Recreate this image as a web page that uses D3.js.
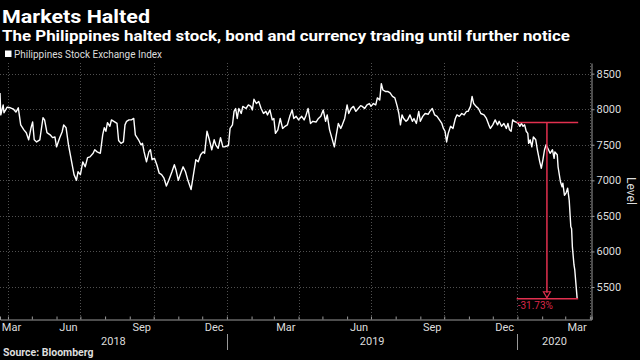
<!DOCTYPE html>
<html><head><meta charset="utf-8">
<script src="https://cdn.jsdelivr.net/npm/d3@7"></script>
<style>body{margin:0;background:#000;} svg{display:block}</style>
</head><body>
<svg id="c" width="640" height="360"></svg>
<script>
const dates = [
"2018-03-22","2018-03-23","2018-03-26","2018-03-27","2018-03-31","2018-04-04","2018-04-08","2018-04-11","2018-04-14","2018-04-17",
"2018-04-21","2018-04-24","2018-04-27","2018-04-30","2018-05-02","2018-05-04","2018-05-07","2018-05-11","2018-05-15","2018-05-17",
"2018-05-20","2018-05-24","2018-05-27","2018-05-30","2018-06-01","2018-06-05","2018-06-08","2018-06-10","2018-06-13","2018-06-16",
"2018-06-20","2018-06-23","2018-06-26","2018-06-28","2018-07-01","2018-07-04","2018-07-07","2018-07-10","2018-07-13","2018-07-17",
"2018-07-19","2018-07-22","2018-07-26","2018-07-29","2018-07-31","2018-08-02","2018-08-04","2018-08-07","2018-08-09","2018-08-12",
"2018-08-16","2018-08-18","2018-08-21","2018-08-24","2018-08-26","2018-08-28","2018-08-31","2018-09-03","2018-09-06","2018-09-08",
"2018-09-12","2018-09-15","2018-09-17","2018-09-19","2018-09-22","2018-09-25","2018-09-27","2018-09-29","2018-10-02","2018-10-05",
"2018-10-08","2018-10-11","2018-10-14","2018-10-17","2018-10-20","2018-10-24","2018-10-27","2018-10-29","2018-11-01","2018-11-04",
"2018-11-07","2018-11-10","2018-11-13","2018-11-17","2018-11-20","2018-11-23","2018-11-26","2018-11-29","2018-12-02","2018-12-04",
"2018-12-07","2018-12-10","2018-12-13","2018-12-16","2018-12-18","2018-12-21","2018-12-24","2018-12-27","2018-12-29","2019-01-03",
"2019-01-05","2019-01-08","2019-01-10","2019-01-12","2019-01-14","2019-01-16","2019-01-19","2019-01-21","2019-01-25","2019-01-28",
"2019-01-31","2019-02-02","2019-02-04","2019-02-07","2019-02-10","2019-02-13","2019-02-16","2019-02-19","2019-02-21","2019-02-24",
"2019-02-27","2019-03-01","2019-03-03","2019-03-06","2019-03-09","2019-03-12","2019-03-15","2019-03-18","2019-03-21","2019-03-24",
"2019-03-26","2019-03-29","2019-04-01","2019-04-05","2019-04-08","2019-04-10","2019-04-13","2019-04-16","2019-04-19","2019-04-23",
"2019-04-26","2019-04-29","2019-05-02","2019-05-05","2019-05-07","2019-05-10","2019-05-13","2019-05-16","2019-05-18","2019-05-21",
"2019-05-24","2019-05-26","2019-05-29","2019-06-01","2019-06-03","2019-06-06","2019-06-09","2019-06-12","2019-06-15","2019-06-18",
"2019-06-20","2019-06-23","2019-06-26","2019-06-29","2019-07-01","2019-07-04","2019-07-07","2019-07-09","2019-07-12","2019-07-14",
"2019-07-16","2019-07-19","2019-07-22","2019-07-25","2019-07-28","2019-07-31","2019-08-03","2019-08-05","2019-08-07","2019-08-09",
"2019-08-11","2019-08-14","2019-08-16","2019-08-19","2019-08-22","2019-08-24","2019-08-27","2019-08-30","2019-09-01","2019-09-04",
"2019-09-07","2019-09-11","2019-09-13","2019-09-16","2019-09-19","2019-09-22","2019-09-25","2019-09-28","2019-09-30","2019-10-02",
"2019-10-04","2019-10-06","2019-10-09","2019-10-12","2019-10-15","2019-10-17","2019-10-20","2019-10-23","2019-10-26","2019-10-29",
"2019-10-31","2019-11-03","2019-11-05","2019-11-07","2019-11-10","2019-11-13","2019-11-16","2019-11-20","2019-11-23","2019-11-26",
"2019-11-28","2019-12-01","2019-12-04","2019-12-07","2019-12-09","2019-12-12","2019-12-15","2019-12-18","2019-12-20","2019-12-22",
"2019-12-24","2019-12-26","2019-12-28","2019-12-31","2020-01-02","2020-01-04","2020-01-06","2020-01-08","2020-01-10","2020-01-12",
"2020-01-14","2020-01-15","2020-01-17","2020-01-19","2020-01-21","2020-01-24","2020-01-26","2020-01-29","2020-01-31","2020-02-02",
"2020-02-04","2020-02-06","2020-02-09","2020-02-11","2020-02-14","2020-02-16","2020-02-17","2020-02-20","2020-02-21","2020-02-24",
"2020-02-26","2020-02-27","2020-02-29","2020-03-02","2020-03-04","2020-03-06","2020-03-08","2020-03-09","2020-03-10","2020-03-12",
"2020-03-13","2020-03-16"];
const values = [
8228,7920,8060,7950,8030,8020,8000,7960,8020,7780,
7710,7670,7570,7740,7820,7570,7540,7570,7880,7850,
7670,7640,7600,7610,7470,7600,7680,7780,7740,7500,
7260,7080,7000,7120,7080,7260,7190,7320,7330,7380,
7430,7400,7380,7640,7740,7690,7810,7760,7850,7830,
7800,7560,7520,7540,7780,7830,7850,7850,7870,7640,
7570,7500,7520,7400,7260,7400,7430,7290,7310,7220,
7100,7080,7030,6920,7000,7120,7220,7150,7000,7100,
7190,7120,7000,6870,7080,7290,7260,7360,7400,7380,
7690,7570,7430,7570,7500,7450,7600,7470,7470,7490,
7730,7780,7970,8010,7870,8010,7940,8040,8010,8060,
8040,7990,8140,8080,8110,8010,7940,7970,7920,7990,
7850,7870,7660,7710,7870,7730,7760,7780,7900,7990,
7870,7900,7850,7900,7850,7900,8010,7800,7830,7820,
7870,7900,7990,7830,7920,7710,7590,7470,7610,7800,
7730,7780,7870,8060,7940,8010,8040,7970,8010,8050,
8040,8010,8060,8080,8040,8080,8060,8160,8130,8360,
8270,8250,8250,8230,8180,8160,8040,7940,7780,7920,
7870,7830,7850,7920,7830,7870,7800,7970,7830,7900,
7940,7930,7970,8010,7920,7900,7850,7800,7730,7690,
7540,7660,7760,7730,7870,7920,7900,7940,7920,7970,
7970,8040,8180,8080,8040,8010,7940,7920,7870,7780,
7730,7780,7850,7780,7830,7760,7800,7730,7800,7710,
7690,7850,7830,7815,7800,7760,7800,7760,7780,7690,
7660,7520,7570,7470,7610,7570,7430,7260,7170,7290,
7430,7500,7430,7380,7430,7310,7400,7360,7190,6980,
6910,6960,6790,6820,6890,6720,6350,6320,6060,5810,
5740,5335];
const yTicks = [5500,6000,6500,7000,7500,8000,8500];
const monthLabels = ["Mar","Jun","Sep","Dec"];
const yearLabels = ["2018","2019","2020"];
const seriesName = "Philippines Stock Exchange Index";
const changeStartDate = "2019-12-31";
const title = "Markets Halted";
const subtitle = "The Philippines halted stock, bond and currency trading until further notice";
const source = "Source: Bloomberg";
const yTitle = "Level";

const parse = d3.timeParse("%Y-%m-%d");
const data = dates.map((d,i)=>({date:parse(d), value:values[i]}));

const svg = d3.select("#c");
svg.append("rect").attr("width",640).attr("height",360).attr("fill","#000");

const L=0, R=591.5, T=63, B=319;
const x = d3.scaleTime().domain([new Date(2018,2,22), new Date(2020,3,3)]).range([L,R]);
const y = d3.scaleLinear().domain([5050,8650]).range([B,T]);
const font = "Roboto, 'Liberation Sans', Arial, sans-serif";

// titles
svg.append("text").attr("x",2).attr("y",23).attr("fill","#fff").attr("font-family",font)
  .attr("font-weight","bold").attr("font-size",18).attr("textLength",148).attr("lengthAdjust","spacingAndGlyphs").text(title);
svg.append("text").attr("x",2).attr("y",41).attr("fill","#fff").attr("font-family",font)
  .attr("font-weight","bold").attr("font-size",14).attr("textLength",568).attr("lengthAdjust","spacingAndGlyphs").text(subtitle);
// legend
svg.append("rect").attr("x",5).attr("y",50.5).attr("width",6.5).attr("height",6.5).attr("fill","#fff");
svg.append("text").attr("x",14).attr("y",57.5).attr("fill","#ddd").attr("font-family",font)
  .attr("font-size",10).attr("textLength",148).attr("lengthAdjust","spacingAndGlyphs").text(seriesName);

// gridlines
const grid = svg.append("g").attr("stroke","#505050").attr("stroke-dasharray","1,2").attr("stroke-width",1);
yTicks.forEach(v=>{
  grid.append("line").attr("x1",L).attr("x2",R).attr("y1",Math.round(y(v))+0.5).attr("y2",Math.round(y(v))+0.5);
});
const qStarts = d3.timeMonths(x.domain()[0], x.domain()[1]).filter(d=>d.getMonth()%3===0);
qStarts.forEach(d=>{
  grid.append("line").attr("x1",Math.round(x(d))+0.5).attr("x2",Math.round(x(d))+0.5).attr("y1",T).attr("y2",B);
});

// bottom axis (monthly ticks)
const xAxis = svg.append("g").attr("transform",`translate(0,${B+0.5})`)
  .call(d3.axisBottom(x).ticks(d3.timeMonth.every(1)).tickSize(-3).tickFormat(""));
xAxis.select(".domain").attr("stroke","#999");
xAxis.selectAll(".tick line").attr("stroke","#999");

const fmtM = d3.timeFormat("%b");
const monthStarts = d3.timeMonths(d3.timeMonth.floor(x.domain()[0]), x.domain()[1]).filter(d=>monthLabels.includes(fmtM(d)));
monthStarts.forEach(d=>{
  const mid = new Date(d.getFullYear(), d.getMonth(), 16);
  let px = x(mid);
  px = Math.max(px, 11.5);
  svg.append("text").attr("x",px).attr("y",331).attr("text-anchor","middle").attr("fill","#ddd")
    .attr("font-family",font).attr("font-size",11).text(fmtM(d));
});
// year labels and separators
yearLabels.forEach(yr=>{
  const s = Math.max(x(new Date(+yr,0,1)), L), e = Math.min(x(new Date(+yr+1,0,1)), R);
  svg.append("text").attr("x",(s+e)/2).attr("y",345).attr("text-anchor","middle").attr("fill","#ddd")
    .attr("font-family",font).attr("font-size",11).text(yr);
  if (x(new Date(+yr,0,1)) > L) {
    svg.append("line").attr("x1",Math.round(x(new Date(+yr,0,1)))+0.5).attr("x2",Math.round(x(new Date(+yr,0,1)))+0.5)
      .attr("y1",334).attr("y2",350).attr("stroke","#999");
  }
});

// right axis
const yAxis = svg.append("g").attr("transform",`translate(${R},0)`)
  .call(d3.axisRight(y).tickValues(yTicks).tickFormat(d3.format("d")).tickSize(3).tickPadding(2).tickSizeOuter(0));
yAxis.select(".domain").attr("stroke","#999");
yAxis.selectAll(".tick line").attr("stroke","#999");
yAxis.selectAll(".tick text").attr("fill","#ddd").attr("font-family",font).attr("font-size",11);
svg.append("text").attr("transform","translate(627,191) rotate(90)").attr("text-anchor","middle")
  .attr("fill","#ddd").attr("font-family",font).attr("font-size",12).text(yTitle);

// line
svg.append("path").datum(data)
  .attr("d", d3.line().x(d=>x(d.date)).y(d=>y(d.value)))
  .attr("fill","none").attr("stroke","#fff").attr("stroke-width",1.4).attr("stroke-linejoin","round");

// annotation
const red = "#e2304f";
const sd = parse(changeStartDate);
const sPt = data.find(d=>+d.date===+sd);
const ePt = data[data.length-1];
const sx = x(sPt.date), ex = x(ePt.date), ty = y(sPt.value), by = y(ePt.value), mx = (sx+ex)/2;
const ann = svg.append("g").attr("stroke",red).attr("stroke-width",1.5).attr("fill","none");
ann.append("line").attr("x1",sx).attr("x2",ex+1).attr("y1",ty).attr("y2",ty);
ann.append("line").attr("x1",sx).attr("x2",ex+1).attr("y1",by).attr("y2",by);
ann.append("line").attr("x1",mx).attr("x2",mx).attr("y1",ty).attr("y2",by-6);
ann.append("path").attr("d",`M${mx-3.5},${by-7}L${mx+3.5},${by-7}L${mx},${by-1}Z`).attr("stroke-width",1.2);
const pct = (ePt.value/sPt.value-1)*100;
svg.append("text").attr("x",sx+1).attr("y",by+10).attr("fill","#d8284a").attr("font-family",font)
  .attr("font-size",10).text(`${pct.toFixed(2)}%`);

// source
svg.append("text").attr("x",3).attr("y",356).attr("fill","#ddd").attr("font-family",font)
  .attr("font-weight","bold").attr("font-size",10.5).text(source);
</script>
</body></html>
